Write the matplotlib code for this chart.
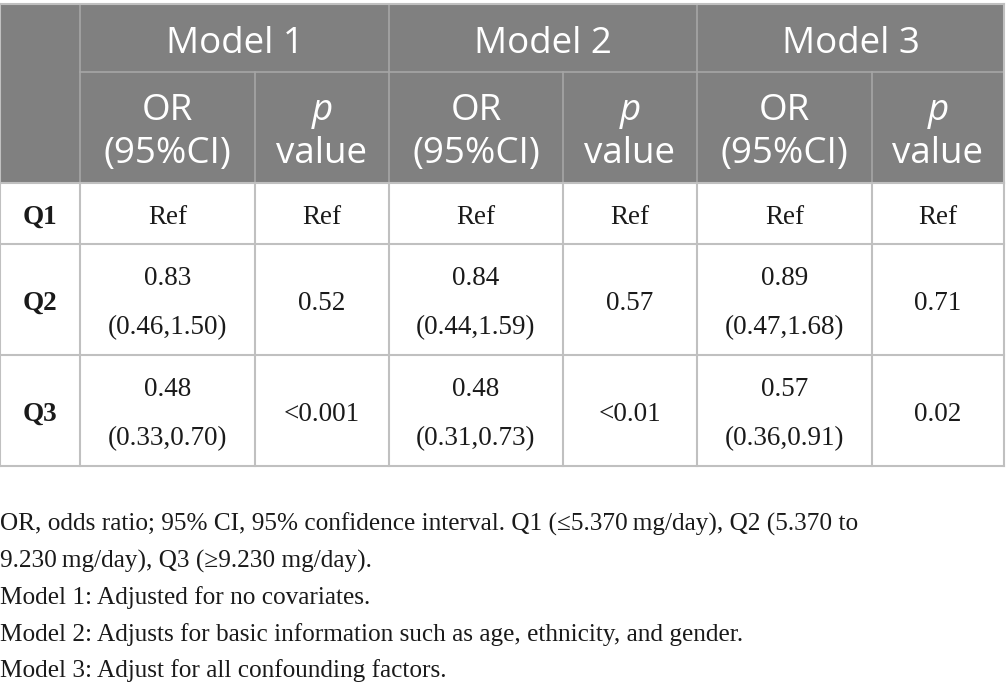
import matplotlib.pyplot as plt
from matplotlib.patches import Rectangle

# table content
models = ['Model 1', 'Model 2', 'Model 3']
groups = ['Q1', 'Q2', 'Q3']
or_values = [['Ref', 'Ref', 'Ref'],
             ['0.83', '0.84', '0.89'],
             ['0.48', '0.48', '0.57']]
or_ci = [['', '', ''],
         ['(0.46,1.50)', '(0.44,1.59)', '(0.47,1.68)'],
         ['(0.33,0.70)', '(0.31,0.73)', '(0.36,0.91)']]
p_values = [['Ref', 'Ref', 'Ref'],
            ['0.52', '0.57', '0.71'],
            ['<0.001', '<0.01', '0.02']]
notes = [
    'OR, odds ratio; 95% CI, 95% confidence interval. Q1 (\u22645.370\u2009mg/day), Q2 (5.370 to',
    '9.230\u2009mg/day), Q3 (\u22659.230 mg/day).',
    'Model 1: Adjusted for no covariates.',
    'Model 2: Adjusts for basic information such as age, ethnicity, and gender.',
    'Model 3: Adjust for all confounding factors.',
]

# layout (pixels)
col_x = [0, 80, 255, 389, 563, 697, 872, 1004]
row_y = [4, 72, 183, 244, 355, 466]
head_bg = '#808080'
grid = '#c0c0c0'
head_line = '#a6a6a6'
serif = ['Liberation Serif', 'DejaVu Serif']
sans = ['Open Sans', 'DejaVu Sans']
ink = '#1a1a1a'

fig = plt.figure(figsize=(10.06, 6.94), dpi=100)
ax = fig.add_axes([0, 0, 1, 1])
ax.set_xlim(0, 1006)
ax.set_ylim(694, 0)
ax.axis('off')

# header background
ax.add_patch(Rectangle((col_x[0], row_y[0]), col_x[-1] - col_x[0], row_y[2] - row_y[0],
                       facecolor=head_bg, edgecolor='none'))

# header lines
ax.plot([col_x[1], col_x[-1]], [row_y[1], row_y[1]], color=head_line, lw=1.2)
for i in (1, 3, 5):
    ax.plot([col_x[i], col_x[i]], [row_y[0], row_y[2]], color=head_line, lw=1.2)
for i in (2, 4, 6):
    ax.plot([col_x[i], col_x[i]], [row_y[1], row_y[2]], color=head_line, lw=1.2)

# body lines
for y in row_y[2:]:
    ax.plot([col_x[0], col_x[-1]], [y, y], color=grid, lw=1.5)
for x in col_x:
    ax.plot([x, x], [row_y[2], row_y[-1]], color=grid, lw=1.5)
ax.plot([col_x[0], col_x[-1]], [row_y[0], row_y[0]], color=grid, lw=1.5)
ax.plot([col_x[0], col_x[0]], [row_y[0], row_y[2]], color=grid, lw=1.5)
ax.plot([col_x[-1], col_x[-1]], [row_y[0], row_y[2]], color=grid, lw=1.5)

# header text
hsize = 26.5
for m, name in enumerate(models):
    x0, x1 = col_x[1 + 2 * m], col_x[3 + 2 * m]
    ax.text((x0 + x1) / 2, 53, name, ha='center', va='baseline', color='white',
            fontsize=hsize, family=sans)
    xo = (col_x[1 + 2 * m] + col_x[2 + 2 * m]) / 2
    xp = (col_x[2 + 2 * m] + col_x[3 + 2 * m]) / 2
    ax.text(xo, 120, 'OR', ha='center', va='baseline', color='white', fontsize=hsize, family=sans)
    ax.text(xo, 163, '(95%CI)', ha='center', va='baseline', color='white', fontsize=hsize, family=sans)
    ax.text(xp, 120, 'p', ha='center', va='baseline', color='white', fontsize=hsize,
            family=sans, style='italic')
    ax.text(xp, 163, 'value', ha='center', va='baseline', color='white', fontsize=hsize, family=sans)

# body text
bsize = 19.5
for r, g in enumerate(groups):
    y0, y1 = row_y[2 + r], row_y[3 + r]
    ym = (y0 + y1) / 2
    ax.text(col_x[0] + 40, ym + 10, g, ha='center', va='baseline', fontsize=bsize,
            family=serif, weight='bold', color=ink)
    for m in range(3):
        xo = (col_x[1 + 2 * m] + col_x[2 + 2 * m]) / 2
        xp = (col_x[2 + 2 * m] + col_x[3 + 2 * m]) / 2
        if or_ci[r][m]:
            ax.text(xo, ym - 14.5, or_values[r][m], ha='center', va='baseline',
                    fontsize=bsize, family=serif, color=ink)
            ax.text(xo, ym + 35, or_ci[r][m], ha='center', va='baseline',
                    fontsize=bsize, family=serif, color=ink)
        else:
            ax.text(xo, ym + 10, or_values[r][m], ha='center', va='baseline',
                    fontsize=bsize, family=serif, color=ink)
        ax.text(xp, ym + 10, p_values[r][m], ha='center', va='baseline',
                fontsize=bsize, family=serif, color=ink)

# footnotes
for i, line in enumerate(notes):
    ax.text(0, 531 + 36.5 * i, line, ha='left', va='baseline', fontsize=18.2,
            family=serif, color=ink)

fig.savefig('out.png', dpi=100)
